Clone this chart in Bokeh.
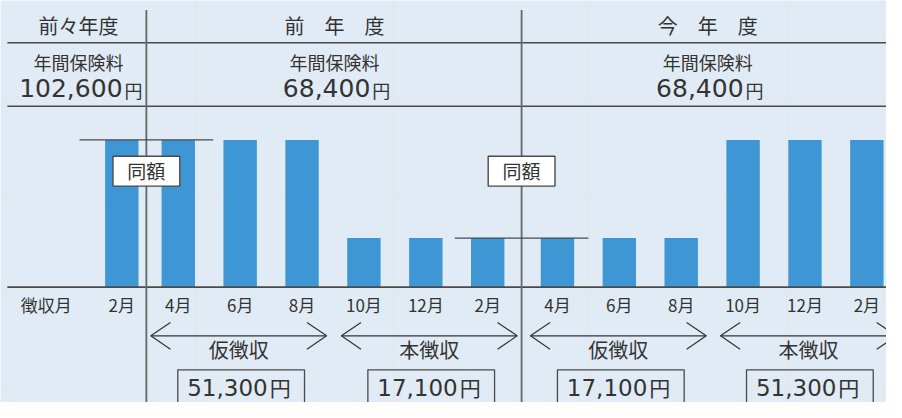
from bokeh.plotting import figure
from bokeh.models import Range1d
from bokeh.core.properties import value
from bokeh.embed import file_html
from bokeh.resources import INLINE

# ---------------- data ----------------
years = ["前々年度", "前　年　度", "今　年　度"]
premium_label = "年間保険料"
annual_premium = [102600, 68400, 68400]
months = ["2月", "4月", "6月", "8月", "10月", "12月", "2月",
          "4月", "6月", "8月", "10月", "12月", "2月"]
year_of_month = [0, 1, 1, 1, 1, 1, 1, 2, 2, 2, 2, 2, 2]
amounts = [17100, 17100, 17100, 17100, 5700, 5700, 5700,
           5700, 5700, 5700, 17100, 17100, 17100]
phases = ["仮徴収", "本徴収", "仮徴収", "本徴収"]
phase_members = [[1, 2, 3], [4, 5, 6], [7, 8, 9], [10, 11, 12]]
row_label = "徴収月"
same_label = "同額"
same_pairs = [(0, 1), (6, 7)]          # bars compared as "same amount"

# ---------------- style / layout ----------------
BG = "#E1EBF5"
BAR = "#3E97D4"
TXT = "#333333"
LINE = "#4a4a4a"
JP = "Noto Sans CJK JP"
NUM = "DejaVu Sans"
W, H = 886, 402
RW, RH = 902, 418          # layout units

group_start = [123.5, 181.0, 567.0]
step = 63.0
col_centers = [79.5, 340.0, 720.0]
dividers = [148.5, 530.5]
arrow_centers = [242.5, 436.5, 629.0, 822.5]
box_centers = [245.0, 438.5, 631.5, 824.0]
BASE_PX, TOP_PX = 298.0, 145.0
yen_per_px = max(amounts) / (BASE_PX - TOP_PX)

xs, cnt = [], {}
for g in year_of_month:
    k = cnt.get(g, 0)
    xs.append(group_start[g] + step * k)
    cnt[g] = k + 1

p = figure(width=W, height=H, output_backend="svg", toolbar_location=None,
           x_range=Range1d(0, RW), y_range=Range1d(RH, 0),
           x_axis_location=None, y_axis_location=None, min_border=0)
p.extra_y_ranges = {"yen": Range1d(start=(BASE_PX - RH) * yen_per_px,
                                   end=BASE_PX * yen_per_px)}
p.background_fill_color = BG
p.border_fill_color = BG
p.outline_line_color = None


def txt(x, y, s, size, font=JP, align="center", baseline="middle", color=TXT):
    p.text(x=[x], y=[y], text=[s], text_font=value(font),
           text_font_size=f"{size}px", text_align=align,
           text_baseline=baseline, text_color=color)


# bars
p.vbar(x=xs, top=amounts, bottom=0, width=34, y_range_name="yen",
       fill_color=BAR, line_color=None)

# table lines
p.segment(x0=[7, 7, 7], y0=[44, 110, BASE_PX], x1=[910, 910, 910],
          y1=[44, 110, BASE_PX], line_color=LINE, line_width=1.6)
p.segment(x0=dividers, y0=[10, 10], x1=dividers, y1=[430, 430],
          line_color="#666666", line_width=1.8)

# "same amount" level lines + boxes
for (a, b), d in zip(same_pairs, dividers):
    p.segment(x0=[d - 68], x1=[d + 68], y0=[amounts[a]], y1=[amounts[a]],
              y_range_name="yen", line_color=LINE, line_width=1.3)
    p.quad(left=[d - 34], right=[d + 34], top=[162], bottom=[193],
           fill_color="white", line_color=LINE, line_width=1.4)
    txt(d, 176.5, same_label, 19)

# header texts
for c, yname, prem in zip(col_centers, years, annual_premium):
    txt(c, 26, yname, 20)
    txt(c, 64, premium_label, 18)
    s = f"{prem:,}"
    wd = 26 * (0.636 * sum(ch.isdigit() for ch in s) + 0.318 * s.count(","))
    right = c + (wd - 18) / 2
    txt(right, 91.5, s, 25, font=NUM, align="right")
    txt(right + 2, 93, "円", 18, align="left")

# month labels
txt(46.5, 316, row_label, 17)
for x, m in zip(xs, months):
    txt(x, 316, m, 17)

# arrows, phase labels, totals
AY = 348.7
for c, ph, mem, bc in zip(arrow_centers, phases, phase_members, box_centers):
    l, r = c - 89.5, c + 89.5
    p.segment(x0=[l], x1=[r], y0=[AY], y1=[AY], line_color=TXT, line_width=1.2)
    p.line(x=[l + 20, l, l + 20], y=[AY - 14, AY, AY + 14], line_color=TXT, line_width=1.2)
    p.line(x=[r - 20, r, r - 20], y=[AY - 14, AY, AY + 14], line_color=TXT, line_width=1.2)
    txt(c, 363, ph, 20)
    total = sum(amounts[i] for i in mem)
    p.quad(left=[bc - 64.5], right=[bc + 64.5], top=[384], bottom=[440],
           fill_color=None, line_color=LINE, line_width=1.3)
    s = f"{total:,}"
    txt(bc + 27, 402.5, s, 23, font=NUM, align="right")
    txt(bc + 29, 401.5, "円", 21, align="left")

open("out.html", "w").write(file_html(p, INLINE))
